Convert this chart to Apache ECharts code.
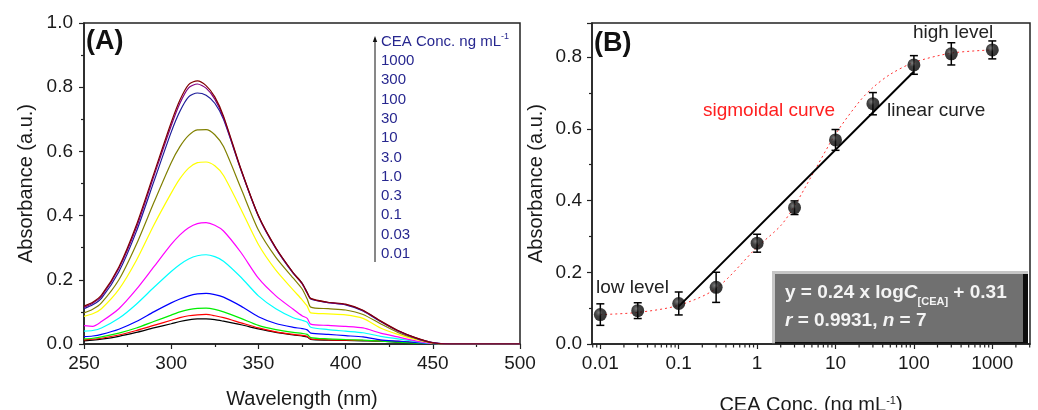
<!DOCTYPE html>
<html><head><meta charset="utf-8">
<script src="https://cdn.jsdelivr.net/npm/echarts@6/dist/echarts.min.js"></script>
<style>html,body{margin:0;padding:0;background:#fff}#c{width:1038px;height:410px}</style>
</head><body><div id="c"></div>
<script>
// ---------- Panel A data ----------
const wavelengths = [250,255,260,270,280,290,300,305,310,315,320,325,330,340,350,360,370,375,378,380,390,400,410,420,430,440,450,460,500];
const concLabels = ['1000','300','100','30','10','3.0','1.0','0.3','0.1','0.03','0.01'];
const spec1000 = [0.118,0.13,0.152,0.24,0.37,0.53,0.69,0.76,0.808,0.82,0.805,0.77,0.71,0.545,0.40,0.30,0.222,0.19,0.16,0.142,0.13,0.124,0.105,0.072,0.042,0.02,0.004,0,0];
const spec300  = [0.114,0.127,0.148,0.235,0.362,0.522,0.68,0.75,0.798,0.81,0.797,0.763,0.705,0.543,0.399,0.298,0.221,0.188,0.158,0.141,0.129,0.123,0.104,0.071,0.041,0.019,0.004,0,0];
const spec100  = [0.11,0.122,0.142,0.225,0.35,0.505,0.66,0.725,0.77,0.782,0.775,0.75,0.7,0.542,0.398,0.298,0.22,0.19,0.16,0.14,0.129,0.122,0.103,0.07,0.041,0.019,0.004,0,0];
const spec30   = [0.097,0.108,0.128,0.2,0.31,0.44,0.565,0.615,0.65,0.667,0.668,0.652,0.615,0.485,0.355,0.27,0.205,0.172,0.14,0.115,0.11,0.106,0.092,0.063,0.036,0.017,0.003,0,0];
const spec10   = [0.086,0.094,0.11,0.17,0.26,0.37,0.47,0.515,0.548,0.565,0.567,0.555,0.525,0.42,0.31,0.23,0.168,0.138,0.118,0.097,0.094,0.091,0.08,0.05,0.03,0.014,0.003,0,0];
const spec3    = [0.057,0.055,0.07,0.11,0.17,0.24,0.31,0.34,0.362,0.375,0.378,0.37,0.352,0.285,0.205,0.15,0.108,0.088,0.08,0.062,0.058,0.055,0.05,0.034,0.022,0.01,0.002,0,0];
const spec1    = [0.04,0.042,0.05,0.08,0.124,0.176,0.226,0.248,0.265,0.275,0.278,0.272,0.258,0.208,0.15,0.11,0.082,0.074,0.068,0.052,0.045,0.04,0.035,0.024,0.016,0.008,0.001,0,0];
const spec03   = [0.023,0.025,0.03,0.046,0.07,0.1,0.128,0.14,0.15,0.156,0.158,0.154,0.146,0.118,0.085,0.064,0.052,0.048,0.044,0.034,0.03,0.026,0.022,0.013,0.009,0.005,0.001,0,0];
const spec01   = [0.016,0.018,0.022,0.034,0.05,0.07,0.09,0.1,0.107,0.111,0.112,0.108,0.1,0.08,0.058,0.045,0.036,0.033,0.03,0.02,0.016,0.014,0.012,0.009,0.006,0.003,0.001,0,0];
const spec003  = [0.013,0.015,0.018,0.028,0.042,0.058,0.074,0.082,0.088,0.091,0.092,0.088,0.082,0.066,0.05,0.038,0.03,0.027,0.024,0.016,0.013,0.012,0.011,0.01,0.008,0.005,0.001,0,0];
const spec001  = [0.01,0.012,0.015,0.024,0.036,0.05,0.063,0.07,0.075,0.078,0.078,0.076,0.071,0.06,0.047,0.036,0.028,0.025,0.022,0.014,0.012,0.011,0.01,0.009,0.006,0.003,0.001,0,0];
const spectraTopDown = [spec1000,spec300,spec100,spec30,spec10,spec3,spec1,spec03,spec01,spec003,spec001];
const colorsTopDown = ['#800000','#800080','#1c1c9a','#808000','#ffff00','#ff00ff','#00ffff','#0000ff','#00ee00','#ff0000','#000000'];

// ---------- Panel B data ----------
const concB = [0.01,0.03,0.1,0.3,1,3,10,30,100,300,1000];
const absB  = [0.082,0.093,0.113,0.158,0.281,0.38,0.569,0.67,0.778,0.809,0.82];
const errB  = [0.03,0.022,0.032,0.042,0.025,0.019,0.029,0.031,0.026,0.031,0.025];
const sigX  = [0.01,0.03,0.1,0.3,1,2,3,5,10,20,30,50,100,300,1000];
const sigY  = [0.082,0.088,0.108,0.155,0.27,0.33,0.385,0.47,0.585,0.675,0.715,0.752,0.785,0.811,0.82];
const linX  = [0.1,100];
const linY  = [0.105,0.76];
const xTicksA = [250,300,350,400,450,500];
const yTicksA = [0,0.2,0.4,0.6,0.8,1.0];

const FONT = '"Liberation Sans", Arial, sans-serif';
const TXT = '#1a1a1a';

const series = [];
for (let i = spectraTopDown.length - 1; i >= 0; i--) {
  series.push({
    name: concLabels[i], type: 'line', xAxisIndex: 0, yAxisIndex: 0,
    data: wavelengths.map((w, k) => [w, spectraTopDown[i][k]]),
    showSymbol: false, smooth: 0.25, lineStyle: {width: 1.2, color: colorsTopDown[i]},
    itemStyle: {color: colorsTopDown[i]}, z: 2 + (10 - i) * 0.01
  });
}

// minor log ticks on B x-axis (axis decoration)
const minorLog = [];
for (let k = -3; k <= 3; k++) for (let m = 2; m <= 9; m++) {
  const v = m * Math.pow(10, k);
  if (v > 0.0078 && v < 3030) minorLog.push([v, 0]);
}
series.push({
  type: 'custom', xAxisIndex: 1, yAxisIndex: 1, data: minorLog, clip: false, silent: true,
  renderItem: (p, api) => {
    const c = api.coord([api.value(0), 0]);
    return {type: 'line', shape: {x1: c[0], y1: c[1], x2: c[0], y2: c[1] + 3.5}, style: {stroke: '#222', lineWidth: 1.2}};
  }
});
series.push({
  type: 'line', xAxisIndex: 1, yAxisIndex: 1, data: sigX.map((x, i) => [x, sigY[i]]),
  showSymbol: false, smooth: 0.3, lineStyle: {color: '#ff3030', width: 1, type: [2, 3]}, z: 3
});
series.push({
  type: 'line', xAxisIndex: 1, yAxisIndex: 1, data: linX.map((x, i) => [x, linY[i]]),
  showSymbol: false, lineStyle: {color: '#000', width: 2}, z: 4
});
series.push({
  type: 'custom', xAxisIndex: 1, yAxisIndex: 1, z: 5,
  data: concB.map((x, i) => [x, absB[i] - errB[i], absB[i] + errB[i]]),
  encode: {x: 0, y: [1, 2]},
  renderItem: (p, api) => {
    const x = api.value(0);
    const a = api.coord([x, api.value(1)]), b = api.coord([x, api.value(2)]);
    const w = 4, st = {stroke: '#000', lineWidth: 1.5};
    return {type: 'group', children: [
      {type: 'line', shape: {x1: a[0], y1: a[1], x2: b[0], y2: b[1]}, style: st},
      {type: 'line', shape: {x1: a[0]-w, y1: a[1], x2: a[0]+w, y2: a[1]}, style: st},
      {type: 'line', shape: {x1: b[0]-w, y1: b[1], x2: b[0]+w, y2: b[1]}, style: st}
    ]};
  }
});
series.push({
  type: 'scatter', xAxisIndex: 1, yAxisIndex: 1, z: 6,
  data: concB.map((x, i) => [x, absB[i]]), symbol: 'circle', symbolSize: 13,
  itemStyle: {color: {type: 'radial', x: 0.38, y: 0.35, r: 0.7, colorStops: [{offset: 0, color: '#5a5a5a'}, {offset: 0.4, color: '#111'}, {offset: 1, color: '#000'}]}}
});

const axisCommon = {
  axisLine: {show: true, onZero: false, lineStyle: {color: '#222', width: 1.5}},
  axisTick: {show: true, length: 5, lineStyle: {color: '#222', width: 1.2}},
  minorTick: {show: true, splitNumber: 2, length: 3, lineStyle: {color: '#222', width: 1.2}},
  splitLine: {show: false},
  axisLabel: {color: TXT, fontSize: 19, fontFamily: FONT, margin: 10},
  nameTextStyle: {color: TXT, fontSize: 20, fontFamily: FONT}
};

const option = {
  animation: false,
  textStyle: {fontFamily: FONT},
  grid: [
    {left: 84, right: 518, top: 23, bottom: 66, show: true, borderColor: '#222', borderWidth: 1.5, backgroundColor: 'transparent', containLabel: false, outerBoundsMode: 'none'},
    {left: 592, right: 8, top: 23, bottom: 66, show: true, borderColor: '#222', borderWidth: 1.5, backgroundColor: 'transparent', containLabel: false, outerBoundsMode: 'none'}
  ],
  xAxis: [
    Object.assign({}, axisCommon, {gridIndex: 0, type: 'value', min: xTicksA[0], max: xTicksA[xTicksA.length-1], interval: 50,
      name: 'Wavelength (nm)', nameLocation: 'middle', nameGap: 45}),
    Object.assign({}, axisCommon, {gridIndex: 1, type: 'log', logBase: 10, min: 0.00783, max: 3027,
      minorTick: {show: false},
      axisLabel: Object.assign({}, axisCommon.axisLabel, {showMinLabel: false, showMaxLabel: false,
        formatter: v => { const l = Math.round(Math.log10(v)); return Math.abs(Math.log10(v) - l) < 1e-6 ? String(+Math.pow(10, l).toFixed(4)) : ''; }}),
      name: 'CEA Conc. (ng mL{sup|-1})', nameLocation: 'middle', nameGap: 51,
      nameTextStyle: {color: TXT, fontSize: 20, fontFamily: FONT, rich: {sup: {fontSize: 11, verticalAlign: 'top', lineHeight: 12, color: TXT, fontFamily: FONT}}}})
  ],
  yAxis: [
    Object.assign({}, axisCommon, {gridIndex: 0, type: 'value', min: yTicksA[0], max: yTicksA[yTicksA.length-1], interval: 0.2,
      axisLabel: Object.assign({}, axisCommon.axisLabel, {margin: 11, formatter: v => v.toFixed(1)}),
      name: 'Absorbance (a.u.)', nameLocation: 'middle', nameGap: 48}),
    Object.assign({}, axisCommon, {gridIndex: 1, type: 'value', min: 0, max: 0.895, interval: 0.2,
      axisLabel: Object.assign({}, axisCommon.axisLabel, {margin: 10, showMaxLabel: false, formatter: v => v.toFixed(1)}),
      name: 'Absorbance (a.u.)', nameLocation: 'middle', nameGap: 46})
  ],
  series: series,
  graphic: [
    {type: 'text', x: 86, y: 42, style: {text: '(A)', font: 'bold 27px ' + FONT, fill: '#111', verticalAlign: 'middle'}},
    {type: 'text', x: 594, y: 44, style: {text: '(B)', font: 'bold 27px ' + FONT, fill: '#111', verticalAlign: 'middle'}},
    // legend of panel A
    {type: 'line', shape: {x1: 375, y1: 41, x2: 375, y2: 262}, style: {stroke: '#111', lineWidth: 1}},
    {type: 'polygon', shape: {points: [[375, 36], [372.8, 42], [377.2, 42]]}, style: {fill: '#111'}},
    {type: 'text', x: 381, y: 32, style: {
      text: ['{t|CEA Conc. ng mL}{s|-1}'].concat(concLabels.map(c => '{t|' + c + '}')).join('\n'),
      rich: {t: {fontSize: 15, fontFamily: FONT, fill: '#27278f', lineHeight: 19.3},
             s: {fontSize: 9, fontFamily: FONT, fill: '#27278f', lineHeight: 9, verticalAlign: 'top'}}
    }},
    // panel B annotations
    {type: 'text', x: 913, y: 33, style: {text: 'high level', fontSize: 19, fontFamily: FONT, fill: '#222', verticalAlign: 'middle'}},
    {type: 'text', x: 887, y: 111, style: {text: 'linear curve', fontSize: 19, fontFamily: FONT, fill: '#222', verticalAlign: 'middle'}},
    {type: 'text', x: 703, y: 111, style: {text: 'sigmoidal curve', fontSize: 19, fontFamily: FONT, fill: '#ff2020', verticalAlign: 'middle'}},
    {type: 'text', x: 596, y: 288, style: {text: 'low level', fontSize: 19, fontFamily: FONT, fill: '#222', verticalAlign: 'middle'}},
    // equation box
    {type: 'group', z: 100, children: [
      {type: 'rect', shape: {x: 772, y: 271, width: 256, height: 73}, style: {fill: '#c6c6c6'}},
      {type: 'rect', shape: {x: 775, y: 274, width: 253, height: 70}, style: {fill: '#0d0d0d'}},
      {type: 'rect', shape: {x: 775, y: 274, width: 248, height: 68}, style: {fill: '#707070'}},
      {type: 'text', x: 785, y: 279, style: {
        text: '{n|y = 0.24 x log}{i|C}{sub|[CEA]}{n| + 0.31}\n{i|r}{n| = 0.9931, }{i|n}{n| = 7}',
        rich: {
          n: {fontSize: 19, fontWeight: 'bold', fontFamily: FONT, fill: '#f4f4f4', lineHeight: 28},
          i: {fontSize: 19, fontWeight: 'bold', fontStyle: 'italic', fontFamily: FONT, fill: '#f4f4f4', lineHeight: 28},
          sub: {fontSize: 11, fontWeight: 'bold', fontFamily: FONT, fill: '#f4f4f4', lineHeight: 16, verticalAlign: 'bottom'}
        }
      }}
    ]}
  ]
};
const chart = echarts.init(document.getElementById('c'), null, {renderer: 'canvas'});
chart.setOption(option);
</script>
</body></html>
